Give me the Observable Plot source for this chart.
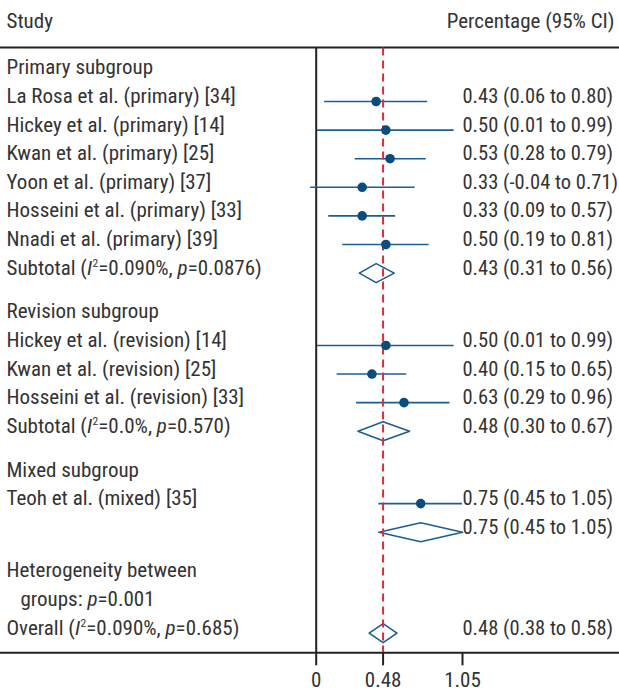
<!DOCTYPE html>
<html>
<head>
<meta charset="utf-8">
<script src="https://cdn.jsdelivr.net/npm/d3@7"></script>
<script src="https://cdn.jsdelivr.net/npm/@observablehq/plot@0.6"></script>
<style>
  html, body { margin: 0; padding: 0; background: #fff; }
  #chart { width: 619px; height: 691px; }
</style>
</head>
<body>
<div id="chart"></div>
<script>
// ---------------- data ----------------
const headerLeft = "Study";
const headerRight = "Percentage (95% CI)";

const primaryTitle = "Primary subgroup";
const primaryStudies = [
  "La Rosa et al. (primary) [34]",
  "Hickey et al. (primary) [14]",
  "Kwan et al. (primary) [25]",
  "Yoon et al. (primary) [37]",
  "Hosseini et al. (primary) [33]",
  "Nnadi et al. (primary) [39]"
];
const primaryEst = [0.43, 0.50, 0.53, 0.33, 0.33, 0.50];
const primaryLo  = [0.06, 0.01, 0.28, -0.04, 0.09, 0.19];
const primaryHi  = [0.80, 0.99, 0.79, 0.71, 0.57, 0.81];
const primarySubtotalLabel = "Subtotal (I²=0.090%, p=0.0876)";
const primarySubtotal = [0.43, 0.31, 0.56];

const revisionTitle = "Revision subgroup";
const revisionStudies = [
  "Hickey et al. (revision) [14]",
  "Kwan et al. (revision) [25]",
  "Hosseini et al. (revision) [33]"
];
const revisionEst = [0.50, 0.40, 0.63];
const revisionLo  = [0.01, 0.15, 0.29];
const revisionHi  = [0.99, 0.65, 0.96];
const revisionSubtotalLabel = "Subtotal (I²=0.0%, p=0.570)";
const revisionSubtotal = [0.48, 0.30, 0.67];

const mixedTitle = "Mixed subgroup";
const mixedStudies = ["Teoh et al. (mixed) [35]"];
const mixedEst = [0.75];
const mixedLo  = [0.45];
const mixedHi  = [1.05];
const mixedSubtotalLabel = "";
const mixedSubtotal = [0.75, 0.45, 1.05];

const heterogeneityLines = ["Heterogeneity between", "groups: p=0.001"];
const overallLabel = "Overall (I²=0.090%, p=0.685)";
const overall = [0.48, 0.38, 0.58];

const tickValues = [0, 0.48, 1.05];
const tickLabels = ["0", "0.48", "1.05"];

// ---------------- layout (code) ----------------
const FONT = '"Roboto Condensed", "DejaVu Sans Condensed", Roboto, sans-serif';
const FS = 21;
const FS_R = 20.5;
const TEXT = "#333";
const BLUE = "#1b5e96";
const DOT = "#0b4c7e";
const RED = "#d92e3c";
const INK = "#222";
const GAP = 0.53;       // extra space between groups, in rows
const DH = 0.332;       // diamond half height, in rows

const fmt = d => d.toFixed(2);
const ciText = (e, l, h) => `${fmt(e)} (${fmt(l)} to ${fmt(h)})`;

const studies = [], diamonds = [], leftText = [], rightText = [];
function addGroup(title, names, est, lo, hi, subLabel, sub, offset) {
  leftText.push({r: offset, label: title, indent: 0});
  names.forEach((n, i) => {
    const rr = offset + 1 + i;
    studies.push({r: rr, est: est[i], lo: lo[i], hi: hi[i]});
    leftText.push({r: rr, label: n, indent: 0});
    rightText.push({r: rr, label: ciText(est[i], lo[i], hi[i])});
  });
  const rs = offset + 1 + names.length;
  diamonds.push({id: title, r: rs, est: sub[0], lo: sub[1], hi: sub[2]});
  if (subLabel) leftText.push({r: rs, label: subLabel, indent: 0});
  rightText.push({r: rs, label: ciText(sub[0], sub[1], sub[2])});
  return rs + 1;
}
let next = addGroup(primaryTitle, primaryStudies, primaryEst, primaryLo, primaryHi, primarySubtotalLabel, primarySubtotal, 0);
next = addGroup(revisionTitle, revisionStudies, revisionEst, revisionLo, revisionHi, revisionSubtotalLabel, revisionSubtotal, next + GAP);
next = addGroup(mixedTitle, mixedStudies, mixedEst, mixedLo, mixedHi, mixedSubtotalLabel, mixedSubtotal, next + GAP);
const hetStart = next + GAP;
heterogeneityLines.forEach((t, i) => leftText.push({r: hetStart + i, label: t, indent: i ? 14 : 0}));
const rOverall = hetStart + heterogeneityLines.length;
leftText.push({r: rOverall, label: overallLabel, indent: 0});
rightText.push({r: rOverall, label: ciText(overall[0], overall[1], overall[2])});
diamonds.push({id: "overall", r: rOverall, est: overall[0], lo: overall[1], hi: overall[2]});

const diamondPts = diamonds.flatMap(d => [
  {id: d.id, x: d.lo, y: d.r},
  {id: d.id, x: d.est, y: d.r - DH},
  {id: d.id, x: d.hi, y: d.r},
  {id: d.id, x: d.est, y: d.r + DH},
  {id: d.id, x: d.lo, y: d.r}
]);

const ROW0 = 72.4, ROWH = 28.6;
const rTop = (47 - ROW0) / ROWH;
const rAxis = (652.3 - ROW0) / ROWH;

const chart = Plot.plot({
  width: 619,
  height: 691,
  marginTop: 0, marginLeft: 0, marginRight: 0,
  marginBottom: 691 - 652.3,
  style: {fontFamily: FONT, fontSize: FS + "px", color: TEXT, background: "#fff"},
  x: {domain: [0, 1.05], range: [315.7, 462], label: null},
  y: {domain: [0, 1], range: [ROW0, ROW0 + ROWH], axis: null, label: null},
  marks: [
    // frame lines
    Plot.ruleY([rTop, rAxis], {stroke: INK, strokeWidth: 2}),
    Plot.ruleX([0], {y1: rTop, y2: rAxis, stroke: INK, strokeWidth: 2}),
    // headers
    Plot.text([headerLeft], {frameAnchor: "top-left", dx: 6, dy: 27.5, text: d => d, textAnchor: "start", lineAnchor: "bottom", fontSize: FS, fill: TEXT}),
    Plot.text([headerRight], {frameAnchor: "top-right", dx: -5, dy: 27.5, text: d => d, textAnchor: "end", lineAnchor: "bottom", fontSize: FS, fill: TEXT}),
    // CIs
    Plot.ruleY(studies, {y: "r", x1: "lo", x2: "hi", stroke: BLUE, strokeWidth: 1.6}),
    Plot.line(diamondPts, {x: "x", y: "y", z: "id", stroke: BLUE, strokeWidth: 1.6, fill: "none"}),
    Plot.ruleX([overall[0]], {y1: rTop + 0.02, y2: rAxis, stroke: RED, strokeWidth: 2, strokeDasharray: "8,5"}),
    Plot.dot(studies, {x: "est", y: "r", r: 4.8, fill: DOT, stroke: "none"}),
    // texts
    Plot.text(leftText, {y: "r", frameAnchor: "left", dx: 6, text: "label", textAnchor: "start", lineAnchor: "bottom", dy: 1.5, fontSize: FS, fill: TEXT}),
    Plot.text(rightText, {y: "r", frameAnchor: "left", dx: 462, text: "label", textAnchor: "start", lineAnchor: "bottom", dy: 1.5, fontSize: FS_R, fill: TEXT}),
    // axis
    Plot.axisX(tickValues, {anchor: "bottom", tickSize: 13, tickPadding: 6, strokeWidth: 2, stroke: INK,
      tickFormat: d => tickLabels[tickValues.indexOf(d)], fontSize: FS, fill: TEXT, label: null})
  ]
});
document.getElementById("chart").appendChild(chart);

// indent per text line + italics
const svg = chart.tagName === "svg" ? chart : chart.querySelector("svg");
svg.querySelectorAll("g[aria-label='text']").forEach(g => {
  g.querySelectorAll("text").forEach(t => {
    const s = t.textContent;
    const li = leftText.find(d => d.label === s);
    if (li && li.indent) {
      const tr = t.getAttribute("transform") || "";
      t.setAttribute("transform", tr + ` translate(${li.indent},0)`);
    }
    if (!/I²|p=/.test(s)) return;
    while (t.firstChild) t.removeChild(t.firstChild);
    const ns = "http://www.w3.org/2000/svg";
    let shift = 0;
    const add = (txt, attrs) => {
      const ts = document.createElementNS(ns, "tspan");
      ts.textContent = txt;
      for (const k in attrs) ts.setAttribute(k, attrs[k]);
      t.appendChild(ts);
      return ts;
    };
    s.split(/(I²|p(?==))/).forEach(part => {
      if (!part) return;
      if (part === "I²") {
        add("I", {"font-style": "italic", ...(shift ? {dy: shift} : {})});
        add("2", {"font-size": FS * 0.55, dy: -8, dx: 0.5});
        shift = 8;
      } else if (part === "p") {
        add("p", {"font-style": "italic", ...(shift ? {dy: shift} : {})});
        shift = 0;
      } else {
        add(part, shift ? {dy: shift} : {});
        shift = 0;
      }
    });
  });
});
</script>
</body>
</html>
